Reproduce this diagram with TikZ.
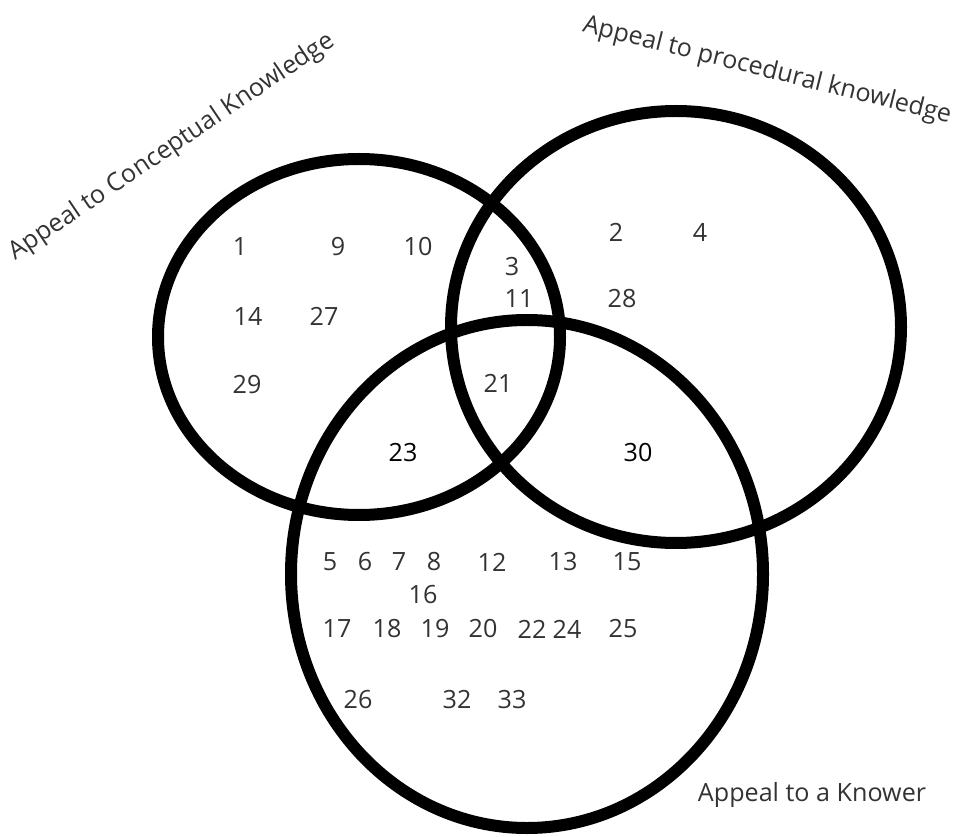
\documentclass[tikz,border=0pt]{standalone}
\usepackage{fontspec}
\setmainfont{Open Sans}
\usepackage{tikz}
\usetikzlibrary{positioning}
\definecolor{inkgray}{HTML}{333333}

\begin{document}
\begin{tikzpicture}[
    x=0.02cm, y=-0.02cm,
    ring/.style={draw=black, line width=0.24cm},
    num/.style={font=\fontsize{14.3}{17}\selectfont, text=inkgray, inner sep=0pt},
    setlabel/.style={font=\fontsize{14.3}{17}\selectfont, text=inkgray, inner sep=0pt}
  ]
    \useasboundingbox (0,0) rectangle (953,837);

    % the three sets
    \coordinate (concept) at (359,337);
    \coordinate (proced) at (676,327);
    \coordinate (knower) at (527,574);
    \draw[ring] (concept) ellipse [x radius=201, y radius=178];
    \draw[ring] (proced) ellipse [x radius=225, y radius=216];
    \draw[ring] (knower) ellipse [x radius=236, y radius=254];

    % set names
    \node[setlabel, rotate=34] (lconcept) at (172,147) {Appeal to Conceptual Knowledge};
    \node[setlabel, rotate=-14] (lproced) at (767,71) {Appeal to procedural knowledge};
    \node[setlabel] (lknower) at (812,795) {Appeal to a Knower};

    % conceptual only
    \node[num] (n1) at (240,247) {1};
    \node[num] (n9) at (338,247) {9};
    \node[num] (n10) at (418,247) {10};
    \node[num] (n14) at (248,316) {14};
    \node[num] (n27) at (324,316) {27};
    \node[num] (n29) at (247,385) {29};

    % procedural only
    \node[num] (n2) at (616,232) {2};
    \node[num] (n4) at (700,232) {4};
    \node[num] (n28) at (622,299) {28};

    % overlaps
    \node[num] (n3) at (512,267) {3};
    \node[num] (n11) at (519,299) {11};
    \node[num] (n21) at (498,383) {21};
    \node[num, text=black] (n23) at (403,453) {23};
    \node[num, text=black] (n30) at (638,453) {30};

    % knower only
    \node[num] (n5) at (330,562) {5};
    \node[num] (n6) at (365,562) {6};
    \node[num] (n7) at (399,562) {7};
    \node[num] (n8) at (434,562) {8};
    \node[num] (n12) at (492,562) {12};
    \node[num] (n13) at (563,562) {13};
    \node[num] (n15) at (627,562) {15};
    \node[num] (n16) at (423,595) {16};
    \node[num] (n17) at (337,629) {17};
    \node[num] (n18) at (387,629) {18};
    \node[num] (n19) at (435,629) {19};
    \node[num] (n20) at (483,629) {20};
    \node[num] (n22) at (532,629) {22};
    \node[num] (n24) at (567,629) {24};
    \node[num] (n25) at (623,629) {25};
    \node[num] (n26) at (358,700) {26};
    \node[num] (n32) at (457,700) {32};
    \node[num] (n33) at (512,700) {33};
\end{tikzpicture}
\end{document}
